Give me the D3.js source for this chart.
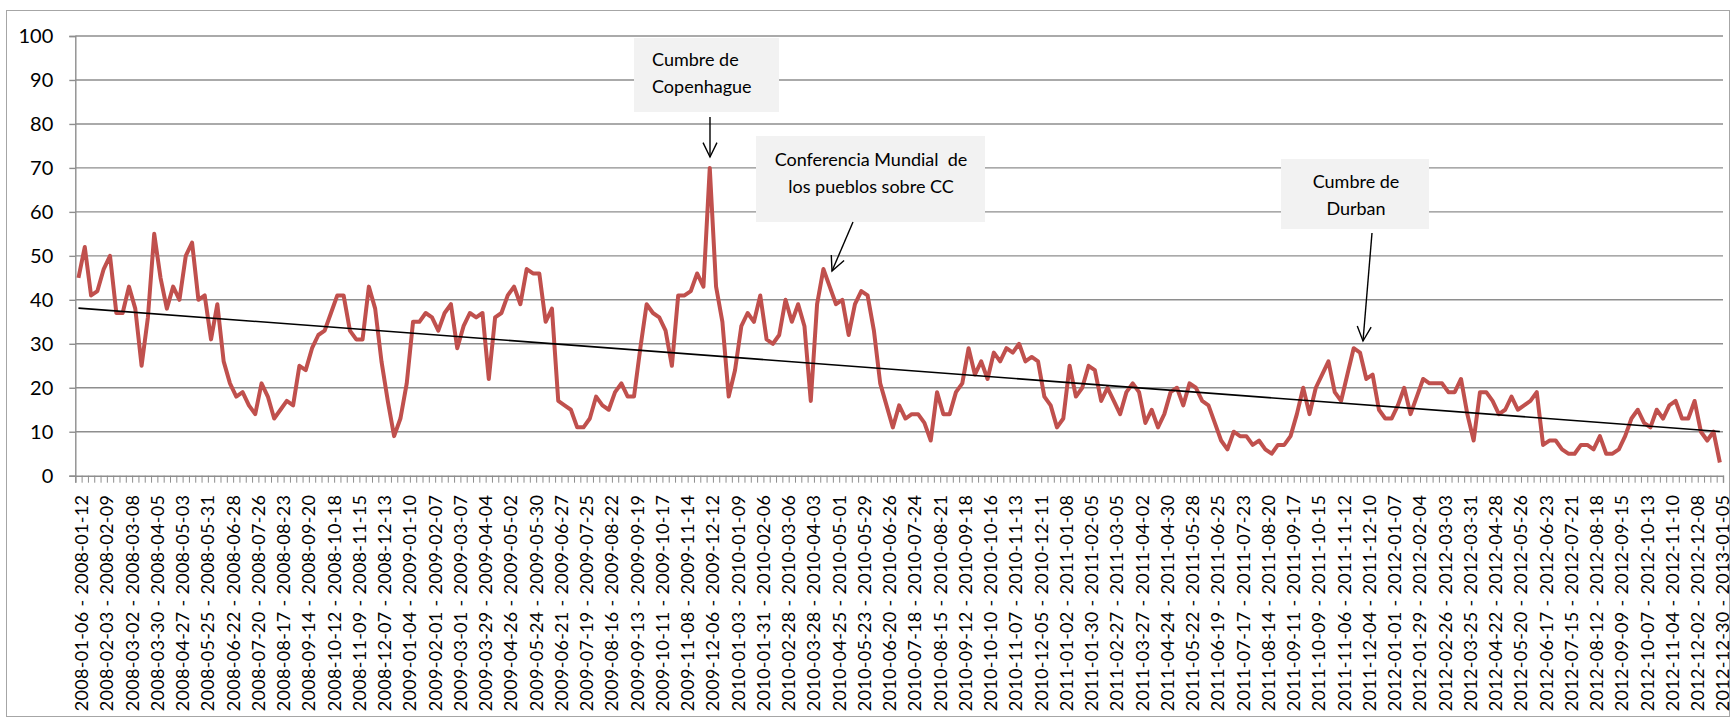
<!DOCTYPE html>
<html>
<head>
<meta charset="utf-8">
<script src="https://cdn.jsdelivr.net/npm/d3@7"></script>
<style>
body{margin:0;background:#fff}
svg text{font-family:Lato,"DejaVu Sans",sans-serif;fill:#000}
</style>
</head>
<body>
<svg id="chart" width="1735" height="718"></svg>
<script>
'use strict'

// first week of the series, one value per week
var firstWeek = "2008-01-06"
var values = [
	45,52,41,42,47,50,37,37,43,38,25,36,55,45,38,43,40,50,53,40,41,31,39,26,21,18,19,16,14,21,18,13,15,17,16,25,24,29,32,33,37,41,41,33,
	31,31,43,38,26,17,9,13,21,35,35,37,36,33,37,39,29,34,37,36,37,22,36,37,41,43,39,47,46,46,35,38,17,16,15,11,11,13,18,16,15,19,21,18,
	18,29,39,37,36,33,25,41,41,42,46,43,70,43,35,18,24,34,37,35,41,31,30,32,40,35,39,34,17,39,47,43,39,40,32,39,42,41,33,21,16,11,16,13,
	14,14,12,8,19,14,14,19,21,29,23,26,22,28,26,29,28,30,26,27,26,18,16,11,13,25,18,20,25,24,17,20,17,14,19,21,19,12,15,11,14,19,20,16,
	21,20,17,16,12,8,6,10,9,9,7,8,6,5,7,7,9,14,20,14,20,23,26,19,17,23,29,28,22,23,15,13,13,16,20,14,18,22,21,21,21,19,19,22,
	14,8,19,19,17,14,15,18,15,16,17,19,7,8,8,6,5,5,7,7,6,9,5,5,6,9,13,15,12,11,15,13,16,17,13,13,17,10,8,10,3
]
var yTicks = [0,10,20,30,40,50,60,70,80,90,100]
var labelEvery = 4

var noteTexts = [
	["Cumbre de", "Copenhague"],
	["Conferencia Mundial  de", "los pueblos sobre CC"],
	["Cumbre de", "Durban"]
]
// layout of the callouts (pixels)
var noteLayout = [
	{box : [634, 38, 145, 74], align : "start", tx : 652, ty : [60, 87], from : [710, 117], to : [710, 157]},
	{box : [756, 136, 229, 86], align : "middle", tx : 871, ty : [160, 187], from : [853, 222], to : [832, 271]},
	{box : [1281, 159, 148, 70], align : "middle", tx : 1356, ty : [182, 209], from : [1372, 233], to : [1363, 341]}
]

var parseDay = d3.utcParse("%Y-%m-%d")
var fmtDay = d3.utcFormat("%Y-%m-%d")
var weeks = values.map(function(v, i){
	var s = d3.utcDay.offset(parseDay(firstWeek), 7 * i)
	return fmtDay(s) + " - " + fmtDay(d3.utcDay.offset(s, 6))
})

var svg = d3.select("#chart")
var pLeft = 75.3, pRight = 1723, pTop = 36, pBottom = 475.7

svg.append("rect")
	.attr("x", 6.5).attr("y", 10.5)
	.attr("width", 1723).attr("height", 706)
	.attr("fill", "#fff").attr("stroke", "#a6a6a6").attr("stroke-width", 1)

var x = d3.scaleBand()
	.domain(d3.range(values.length))
	.range([pLeft, pRight])
	.padding(0)

var y = d3.scaleLinear()
	.domain([0, 100])
	.range([pBottom, pTop])

// gridlines
svg.append("g")
	.selectAll("line")
	.data(yTicks.slice(1))
	.enter().append("line")
	.attr("x1", pLeft).attr("x2", pRight)
	.attr("y1", function(d){ return y(d) })
	.attr("y2", function(d){ return y(d) })
	.attr("stroke", "#8e8e8e").attr("stroke-width", 1.4)

// y axis
var ya = svg.append("g")
	.attr("transform", "translate(" + pLeft + ",0)")
	.call(d3.axisLeft(y).tickValues(yTicks).tickSize(6).tickPadding(16))
ya.select(".domain").attr("stroke", "#8e8e8e").attr("stroke-width", 1.4)
ya.selectAll(".tick line").attr("stroke", "#8e8e8e").attr("stroke-width", 1.4)
ya.selectAll(".tick text").style("font-size", "20px").style("font-family", "Lato")

// x axis: small ticks at category boundaries
var xb = d3.scaleLinear().domain([0, values.length]).range([pLeft, pRight])
var xa = svg.append("g")
	.attr("transform", "translate(0," + pBottom + ")")
	.call(d3.axisBottom(xb).tickValues(d3.range(values.length + 1)).tickSize(7).tickFormat(""))
xa.select(".domain").attr("stroke", "#8e8e8e").attr("stroke-width", 1.4)
xa.selectAll(".tick line").attr("stroke", "#8e8e8e").attr("stroke-width", 1)

// x labels
var xl = svg.append("g")
	.attr("transform", "translate(" + (x.bandwidth() / 2) + "," + pBottom + ")")
	.call(d3.axisBottom(x)
		.tickValues(d3.range(0, values.length, labelEvery))
		.tickSize(0)
		.tickFormat(function(i){ return weeks[i] }))
xl.select(".domain").remove()
xl.selectAll(".tick text")
	.attr("transform", "rotate(-90)")
	.attr("x", -19).attr("y", 0).attr("dy", "0.36em")
	.attr("text-anchor", "end")
	.style("font-size", "18px").style("font-family", "Lato")
	.style("letter-spacing", "0.3px")

function cx(i){ return x(i) + x.bandwidth() / 2 }

// series line
var line = d3.line()
	.x(function(d, i){ return cx(i) })
	.y(function(d){ return y(d) })
svg.append("path")
	.datum(values)
	.attr("d", line)
	.attr("fill", "none")
	.attr("stroke", "#c0504d")
	.attr("stroke-width", 4)
	.attr("stroke-linejoin", "round")

// linear trend
var n = values.length
var mx = d3.mean(values, function(d, i){ return i })
var my = d3.mean(values)
var sxy = d3.sum(values, function(d, i){ return (i - mx) * (d - my) })
var sxx = d3.sum(values, function(d, i){ return (i - mx) * (i - mx) })
var slope = sxy / sxx
var icpt = my - slope * mx
svg.append("line")
	.attr("x1", cx(0)).attr("y1", y(icpt))
	.attr("x2", cx(n - 1)).attr("y2", y(icpt + slope * (n - 1)))
	.attr("stroke", "#000").attr("stroke-width", 1.6)

// callouts
noteLayout.forEach(function(l, k){
	var g = svg.append("g")
	g.append("rect")
		.attr("x", l.box[0]).attr("y", l.box[1])
		.attr("width", l.box[2]).attr("height", l.box[3])
		.attr("fill", "#f2f2f2")
	noteTexts[k].forEach(function(t, j){
		g.append("text")
			.attr("x", l.tx).attr("y", l.ty[j])
			.attr("dy", "0.35em")
			.attr("text-anchor", l.align)
			.style("font-size", "18px")
			.style("white-space", "pre")
			.text(t)
	})
	var ang = Math.atan2(l.to[1] - l.from[1], l.to[0] - l.from[0])
	var len = 16, spread = 0.45
	var p1 = [l.to[0] - len * Math.cos(ang - spread), l.to[1] - len * Math.sin(ang - spread)]
	var p2 = [l.to[0] - len * Math.cos(ang + spread), l.to[1] - len * Math.sin(ang + spread)]
	g.append("line")
		.attr("x1", l.from[0]).attr("y1", l.from[1])
		.attr("x2", l.to[0]).attr("y2", l.to[1])
		.attr("stroke", "#000").attr("stroke-width", 1.4)
	g.append("path")
		.attr("d", "M" + p1 + "L" + l.to + "L" + p2)
		.attr("fill", "none").attr("stroke", "#000").attr("stroke-width", 1.4)
})
</script>
</body>
</html>
